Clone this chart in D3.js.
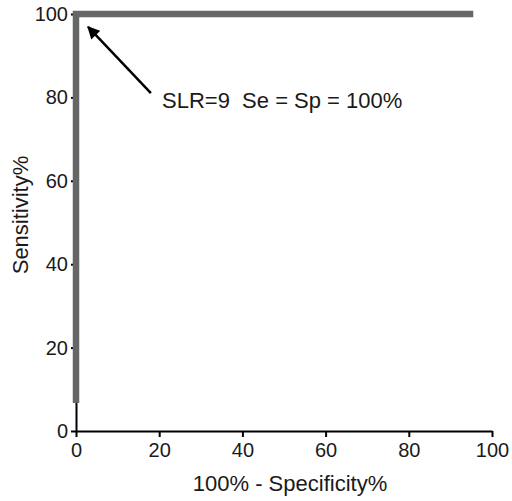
<!DOCTYPE html>
<html>
<head>
<meta charset="utf-8">
<title>ROC curve</title>
<style>
body, html { margin: 0; padding: 0; background: #fff; }
svg { display: block; font-family: Arial, "Liberation Sans", sans-serif; }
.axis path, .axis line { stroke: #000; stroke-width: 2px; }
.axis text { font-size: 20px; fill: #1a1a1a; }
.roc { fill: none; stroke: #666; stroke-width: 6.5px; stroke-linejoin: miter; }
.label { font-size: 22px; fill: #1a1a1a; white-space: pre; }
</style>
<script src="https://d3js.org/d3.v7.min.js"></script>
</head>
<body>
<script>
// ROC curve points (100% - specificity, sensitivity)
var fpr = [0, 0, 95.5];
var sens = [6.7, 100, 100];
var xTicks = [0, 20, 40, 60, 80, 100];
var yTicks = [0, 20, 40, 60, 80, 100];
// annotation arrow: from tail to tip, in data units
var arrowFrom = [18, 81];
var arrowTo = [2.9, 96.9];
var note = "SLR=9  Se = Sp = 100%";

var width = 512, height = 501;
var margin = {top: 14, right: 20, bottom: 70, left: 76};

var svg = d3.select("body").append("svg")
  .attr("width", width)
  .attr("height", height);

var x = d3.scaleLinear().domain([0, 100]).range([margin.left, 492]);
var y = d3.scaleLinear().domain([0, 100]).range([431, margin.top]);

svg.append("defs").append("marker")
  .attr("id", "head")
  .attr("viewBox", "0 0 10 10")
  .attr("refX", 9).attr("refY", 5)
  .attr("markerWidth", 5.5).attr("markerHeight", 5)
  .attr("markerUnits", "strokeWidth")
  .attr("orient", "auto")
  .append("path")
  .attr("d", "M0,0 L10,5 L0,10 z")
  .attr("fill", "#000");

var xAxis = svg.append("g")
  .attr("class", "axis")
  .attr("transform", "translate(0," + y(0) + ")")
  .call(d3.axisBottom(x).tickValues(xTicks).tickSize(6).tickSizeOuter(0).tickPadding(6));

var yAxis = svg.append("g")
  .attr("class", "axis")
  .attr("transform", "translate(" + x(0) + ",0)")
  .call(d3.axisLeft(y).tickValues(yTicks).tickSize(5).tickSizeOuter(0).tickPadding(3));

svg.selectAll(".axis text").style("font-family", "Arial, 'Liberation Sans', sans-serif");

// the curve sits on top of the axes
var pts = fpr.map(function(d, i) { return [d, sens[i]]; });

svg.append("path")
  .datum(pts)
  .attr("class", "roc")
  .attr("d", d3.line().x(function(d) { return x(d[0]); }).y(function(d) { return y(d[1]); }));

svg.append("line")
  .attr("x1", x(arrowFrom[0])).attr("y1", y(arrowFrom[1]))
  .attr("x2", x(arrowTo[0])).attr("y2", y(arrowTo[1]))
  .attr("stroke", "#000")
  .attr("stroke-width", 2.5)
  .attr("marker-end", "url(#head)");

svg.append("text")
  .attr("class", "label")
  .attr("x", 162).attr("y", 108)
  .text(note);

svg.append("text")
  .attr("class", "label")
  .attr("x", 290).attr("y", 491)
  .attr("text-anchor", "middle")
  .text("100% - Specificity%");

svg.append("text")
  .attr("class", "label")
  .attr("transform", "translate(28,215) rotate(-90)")
  .attr("text-anchor", "middle")
  .text("Sensitivity%");
</script>
</body>
</html>
